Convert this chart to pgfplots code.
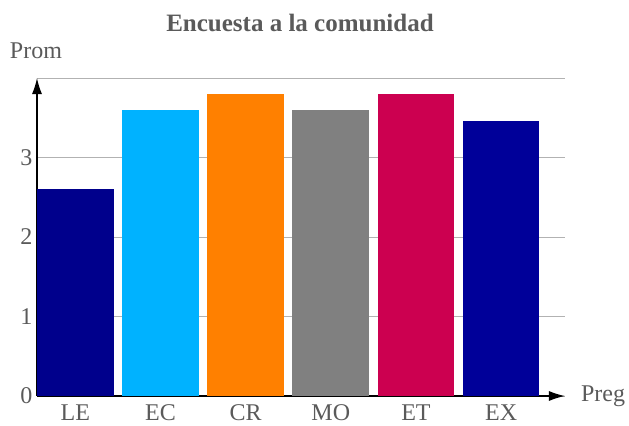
\documentclass[border=0pt]{standalone}
\usepackage{fontspec}
\setmainfont{Liberation Serif}
\usepackage{pgfplots}
\pgfplotsset{compat=1.18}
\usetikzlibrary{arrows.meta}
\definecolor{cLE}{RGB}{0,0,140}
\definecolor{cEC}{RGB}{0,178,255}
\definecolor{cCR}{RGB}{255,128,0}
\definecolor{cMO}{RGB}{128,128,128}
\definecolor{cET}{RGB}{204,0,80}
\definecolor{cEX}{RGB}{0,0,153}
\definecolor{txt}{RGB}{90,90,90}
\begin{document}
\begin{tikzpicture}
\path[use as bounding box] (-37bp,-30bp) rectangle (592bp,396bp);
\begin{axis}[
  at={(0,0)}, anchor=south west,
  scale only axis, width=528bp, height=318bp,
  xmin=-0.45, xmax=5.75, ymin=0, ymax=4,
  axis lines=left,
  axis line style={black, line width=1.3pt, -{Latex[length=16bp,width=10bp]}},
  ybar, bar width=0.9, bar shift=0pt,
  xtick={0,1,2,3,4,5}, xticklabels={LE,EC,CR,MO,ET,EX},
  ytick={0,1,2,3,4}, yticklabels={0,1,2,3,{}},
  ymajorgrids, grid style={gray!60, line width=0.6pt},
  major tick length=0pt,
  tick label style={font=\fontsize{24bp}{28bp}\selectfont, text=txt},
  /pgf/number format/assume math mode=true,
  xticklabel style={yshift=-5bp},
  yticklabel style={xshift=-1bp},
  clip=false,
]
\addplot[fill=cLE, draw=none] coordinates {(0,2.6)};
\addplot[fill=cEC, draw=none] coordinates {(1,3.6)};
\addplot[fill=cCR, draw=none] coordinates {(2,3.8)};
\addplot[fill=cMO, draw=none] coordinates {(3,3.6)};
\addplot[fill=cET, draw=none] coordinates {(4,3.8)};
\addplot[fill=cEX, draw=none] coordinates {(5,3.46)};
\end{axis}
\node[text=txt, font=\fontsize{24bp}{28bp}\selectfont] at (-1bp,345bp) {Prom};
\node[text=txt, font=\fontsize{24bp}{28bp}\selectfont] at (566bp,0bp) {Preg};
\node[text=txt, font=\fontsize{25bp}{29bp}\selectfont\bfseries] at (263bp,373bp) {Encuesta a la comunidad};
\end{tikzpicture}
\end{document}
